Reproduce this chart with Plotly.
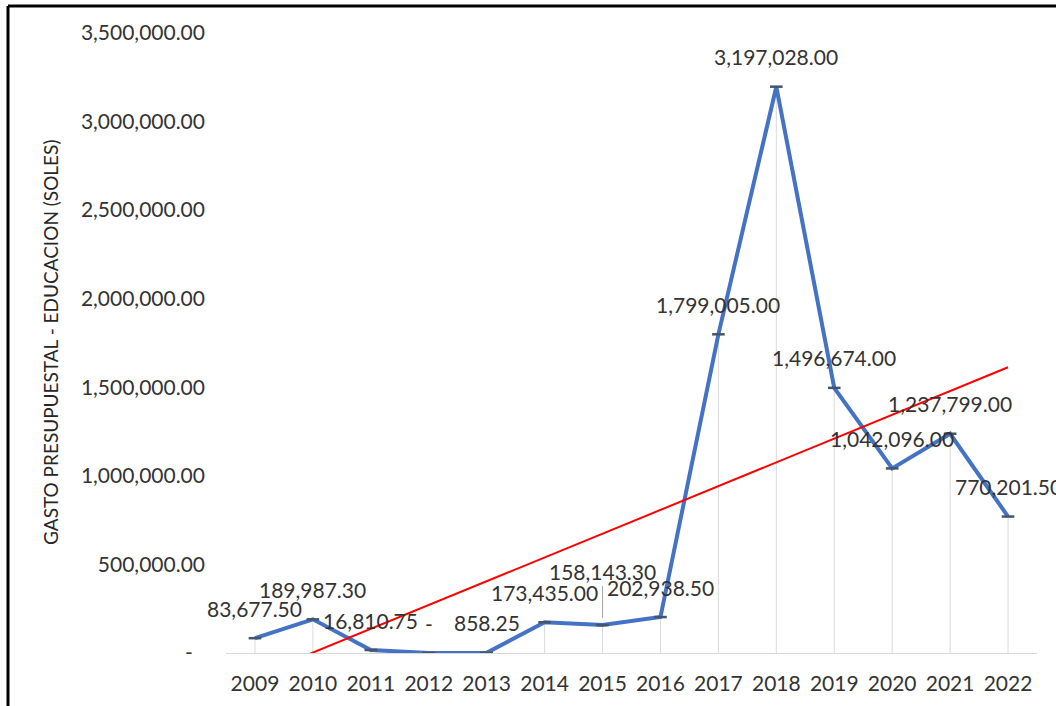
import numpy as np
import plotly.graph_objects as go

# Education budget spending per year (soles)
years = [2009, 2010, 2011, 2012, 2013, 2014, 2015, 2016, 2017, 2018, 2019, 2020, 2021, 2022]
gasto = [83677.50, 189987.30, 16810.75, 0.00, 858.25, 173435.00, 158143.30, 202938.50,
         1799005.00, 3197028.00, 1496674.00, 1042096.00, 1237799.00, 770201.50]

y_tickvals = [0, 500000, 1000000, 1500000, 2000000, 2500000, 3000000, 3500000]
y_ticktext = ["-\u2007", "500,000.00", "1,000,000.00", "1,500,000.00", "2,000,000.00",
              "2,500,000.00", "3,000,000.00", "3,500,000.00"]

y_title = "GASTO PRESUPUESTAL - EDUCACION (SOLES)"

FONT = "Lato"
TEXT_COLOR = "#333333"
W_FIG, H_FIG = 1056, 706
M_L, M_R, M_T, M_B = 226, 19, 33, 53


def fmt(v):
    # accounting-style label: zero shows as a dash
    return "-" if v == 0 else f"{v:,.2f}"


fig = go.Figure()

# faint drop lines from each point down to the axis
drop_x, drop_y = [], []
for yr, v in zip(years, gasto):
    drop_x += [yr, yr, None]
    drop_y += [0, v, None]
fig.add_trace(go.Scatter(x=drop_x, y=drop_y, mode="lines",
                         line=dict(color="#dadada", width=1),
                         hoverinfo="skip", showlegend=False))

# main series
fig.add_trace(go.Scatter(
    x=years, y=gasto, mode="lines+markers",
    line=dict(color="#4472C4", width=4),
    marker=dict(symbol="line-ew", size=9, line=dict(color="#44546A", width=2.5)),
    showlegend=False))

# linear trend line (least squares over the whole series)
slope, intercept = np.polyfit(years, gasto, 1)
trend_x = [years[0], years[-1]]
trend_y = [slope * x + intercept for x in trend_x]
fig.add_trace(go.Scatter(x=trend_x, y=trend_y, mode="lines",
                         line=dict(color="#FF0000", width=2),
                         hoverinfo="skip", showlegend=False))

# data labels above each point
label_shift = {2015: 53}
for yr, v in zip(years, gasto):
    dy = label_shift.get(yr, 30)
    if yr in label_shift:
        fig.add_annotation(x=yr, y=v, text=fmt(v), showarrow=True,
                           ax=0, ay=-dy, arrowhead=0, arrowwidth=1,
                           arrowcolor="#a6a6a6", standoff=7,
                           font=dict(family=FONT, size=21, color=TEXT_COLOR))
    else:
        fig.add_annotation(x=yr, y=v, text=fmt(v), showarrow=False,
                           yshift=dy, yanchor="middle",
                           font=dict(family=FONT, size=21, color=TEXT_COLOR))

pw = W_FIG - M_L - M_R
ph = H_FIG - M_T - M_B

# rotated value-axis title, centred on the plot area
fig.add_annotation(xref="paper", yref="paper", x=(50 - M_L) / pw, y=0.5,
                   xanchor="center", yanchor="middle", showarrow=False,
                   textangle=-90, text=y_title,
                   font=dict(family=FONT, size=19, color="#262626"))

# outer frame lines (top and left)
x_left = (8 - M_L) / pw
y_top = (H_FIG - 6 - M_B) / ph
fig.add_shape(type="line", xref="paper", yref="paper", x0=x_left, x1=(W_FIG - M_L) / pw,
              y0=y_top, y1=y_top, line=dict(color="black", width=3))
fig.add_shape(type="line", xref="paper", yref="paper", x0=x_left, x1=x_left,
              y0=-M_B / ph, y1=y_top, line=dict(color="black", width=3))

fig.update_layout(
    width=W_FIG, height=H_FIG,
    margin=dict(l=M_L, r=M_R, t=M_T, b=M_B),
    paper_bgcolor="white", plot_bgcolor="white",
    font=dict(family=FONT, color=TEXT_COLOR),
    xaxis=dict(range=[2008.5, 2022.5], tickvals=years, ticktext=[str(y) for y in years],
               showgrid=False, zeroline=False, showline=True, linecolor="#d9d9d9",
               linewidth=1, ticks="", ticklabelstandoff=12,
               tickfont=dict(family=FONT, size=21, color=TEXT_COLOR)),
    yaxis=dict(range=[0, 3500000], tickvals=y_tickvals, ticktext=y_ticktext,
               showgrid=False, zeroline=False, showline=False, ticks="",
               ticklabelstandoff=20,
               tickfont=dict(family=FONT, size=21, color=TEXT_COLOR)),
)

fig.write_html("out.html")
